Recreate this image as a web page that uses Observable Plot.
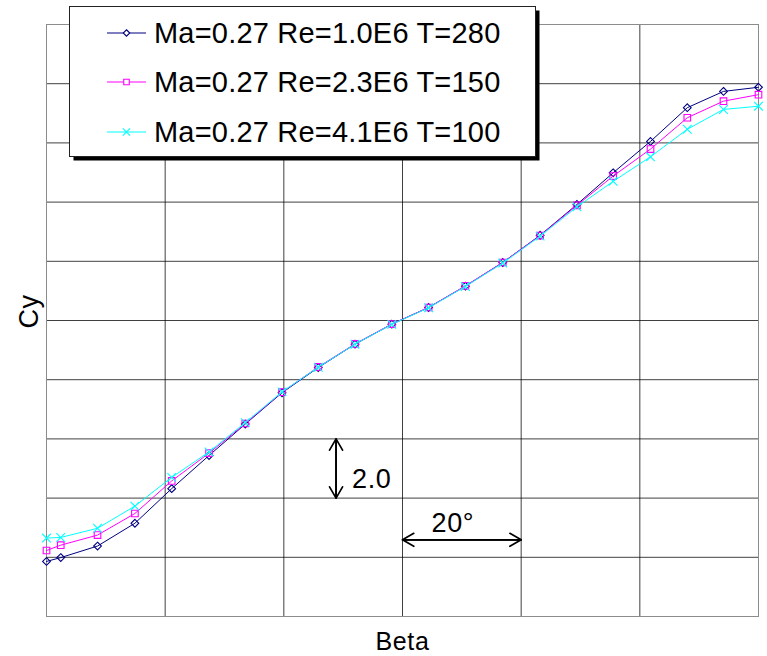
<!DOCTYPE html>
<html>
<head>
<meta charset="utf-8">
<script src="https://cdn.jsdelivr.net/npm/d3@7"></script>
<script src="https://cdn.jsdelivr.net/npm/@observablehq/plot@0.6"></script>
<style>
  body { margin: 0; background: #fff; font-family: "Liberation Sans", Arial, sans-serif; }
  #chart { position: relative; width: 767px; height: 656px; }
  #legend { position: absolute; left: 0; top: 0; pointer-events: none; }
</style>
</head>
<body>
<div id="chart"></div>
<script>
// Side-force coefficient Cy versus sideslip angle Beta, three Reynolds numbers
const beta = [-60, -57.6, -51.4, -45.1, -38.9, -32.6, -26.5, -20.3, -14.2, -8.0, -1.8,
              4.4, 10.6, 16.9, 23.2, 29.4, 35.5, 41.8, 48.0, 54.1, 60];
const cyRe10 = [-8.14, -8.01, -7.62, -6.85, -5.68, -4.56, -3.50, -2.44, -1.59, -0.80, -0.125,
                0.44, 1.16, 1.96, 2.88, 3.92, 4.99, 6.05, 7.19, 7.74, 7.88];
const cyRe23 = [-7.77, -7.59, -7.25, -6.52, -5.42, -4.48, -3.48, -2.42, -1.57, -0.79, -0.12,
                0.44, 1.17, 1.96, 2.87, 3.89, 4.88, 5.79, 6.85, 7.41, 7.63];
const cyRe41 = [-7.35, -7.33, -7.02, -6.27, -5.30, -4.44, -3.45, -2.41, -1.58, -0.80, -0.13,
                0.43, 1.15, 1.94, 2.85, 3.84, 4.70, 5.53, 6.46, 7.13, 7.24];

const seriesLabels = ["Ma=0.27 Re=1.0E6 T=280", "Ma=0.27 Re=2.3E6 T=150", "Ma=0.27 Re=4.1E6 T=100"];
const seriesColors = ["#000080", "#ff00ff", "#00ffff"];
const seriesSymbols = ["diamond2", "square2", "times"];
const seriesRadius = [3.5, 4.2, 4.0];
const seriesValues = [cyRe10, cyRe23, cyRe41];

const betaGrid = [-40, -20, 0, 20, 40];
const cyGrid = [-8, -6, -4, -2, 0, 2, 4, 6, 8];

// scale bars: one grid cell in each direction
const cyBar = {beta: -11.2, from: -4, to: -6, label: "2.0", labelBeta: -8.5, labelCy: -5.36};
const betaBar = {cy: -7.41, from: 0, to: 20, label: "20°", labelBeta: 8.5, labelCy: -6.84};

const series = seriesLabels.map((label, i) => ({
  label, color: seriesColors[i], symbol: seriesSymbols[i], r: seriesRadius[i],
  rows: beta.map((b, j) => ({beta: b, cy: seriesValues[i][j]}))
}));

const font = "'Liberation Sans', Arial, sans-serif";

const chart = Plot.plot({
  width: 767,
  height: 656,
  marginLeft: 46,
  marginRight: 9,
  marginTop: 24,
  marginBottom: 40,
  x: {domain: [-60, 60], axis: null},
  y: {domain: [-10, 10], axis: null},
  style: {fontFamily: font, background: "#fff", color: "#000", letterSpacing: "0.6px"},
  marks: [
    Plot.gridX(betaGrid, {stroke: "#000", strokeOpacity: 0.75}),
    Plot.gridY(cyGrid, {stroke: "#000", strokeOpacity: 0.75}),
    Plot.frame({stroke: "#8c8c8c"}),
    ...series.flatMap(s => [
      Plot.line(s.rows, {x: "beta", y: "cy", stroke: s.color, strokeWidth: 1}),
      Plot.dot(s.rows, {x: "beta", y: "cy", symbol: s.symbol, r: s.r, stroke: s.color, fill: "none", strokeWidth: 1.1})
    ]),
    // vertical scale bar
    Plot.arrow([cyBar], {x: "beta", y1: "from", y2: "to", stroke: "#000", strokeWidth: 1.7, headLength: 11.5, headAngle: 60}),
    Plot.arrow([cyBar], {x: "beta", y1: "to", y2: "from", stroke: "#000", strokeWidth: 1.7, headLength: 11.5, headAngle: 60}),
    Plot.text([cyBar], {x: "labelBeta", y: "labelCy", text: "label", textAnchor: "start", fontSize: 27, fill: "#000"}),
    // horizontal scale bar
    Plot.arrow([betaBar], {y: "cy", x1: "from", x2: "to", stroke: "#000", strokeWidth: 1.7, headLength: 11.5, headAngle: 60}),
    Plot.arrow([betaBar], {y: "cy", x1: "to", x2: "from", stroke: "#000", strokeWidth: 1.7, headLength: 11.5, headAngle: 60}),
    Plot.text([betaBar], {x: "labelBeta", y: "labelCy", text: "label", fontSize: 27, fill: "#000"}),
    // axis titles
    Plot.text(["Beta"], {frameAnchor: "bottom", lineAnchor: "bottom", dy: 33, fontSize: 25, fill: "#000"}),
    Plot.text(["Cy"], {frameAnchor: "left", lineAnchor: "bottom", rotate: -90, dx: -9, dy: 8, fontSize: 27, fill: "#000"})
  ]
});

const host = document.getElementById("chart");
host.appendChild(chart);

// legend box with drop shadow, drawn over the upper-left of the plot
const legend = d3.select(host).append("svg")
  .attr("id", "legend")
  .attr("width", 767)
  .attr("height", 656);

const box = {x: 69.5, y: 6.5, w: 466, h: 150, shadow: 4};
legend.append("rect")
  .attr("x", box.x + box.shadow).attr("y", box.y + box.shadow)
  .attr("width", box.w).attr("height", box.h)
  .attr("fill", "#000");
legend.append("rect")
  .attr("x", box.x).attr("y", box.y)
  .attr("width", box.w).attr("height", box.h)
  .attr("fill", "#fff").attr("stroke", "#222").attr("stroke-width", 1);

const symbolTypes = {diamond2: d3.symbolDiamond2, square2: d3.symbolSquare2, times: d3.symbolTimes};
const rowY = [33, 82, 132];
series.forEach((s, i) => {
  const g = legend.append("g").attr("transform", `translate(0,${rowY[i]})`);
  g.append("line")
    .attr("x1", 107).attr("x2", 146).attr("y1", 0).attr("y2", 0)
    .attr("stroke", s.color).attr("stroke-width", 1.2);
  g.append("path")
    .attr("transform", "translate(126.5,0)")
    .attr("d", d3.symbol(symbolTypes[s.symbol], Math.PI * s.r * s.r * 0.7)())
    .attr("fill", "#fff").attr("stroke", s.color).attr("stroke-width", 1.1);
  g.append("text")
    .attr("x", 154).attr("y", 10.4)
    .attr("font-family", font).attr("font-size", 29)
    .attr("letter-spacing", "0.2px")
    .attr("fill", "#000")
    .text(s.label);
});
</script>
</body>
</html>
